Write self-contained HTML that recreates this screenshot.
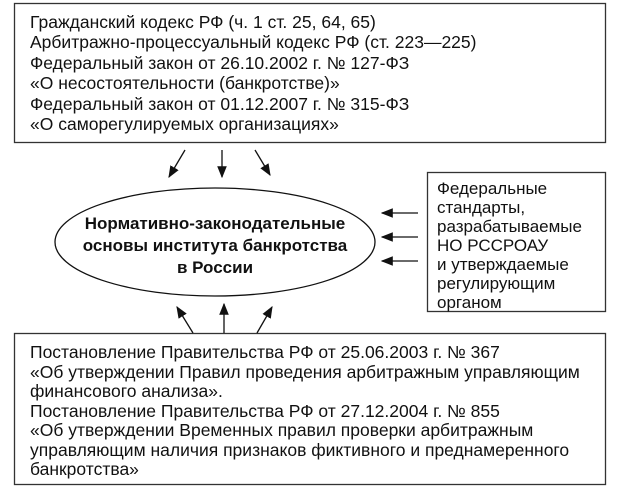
<!DOCTYPE html>
<html><head><meta charset="utf-8"><style>
html,body{margin:0;padding:0;background:#fff;}
svg{display:block;}
text{font-family:"Liberation Sans",sans-serif;fill:#111;}
</style></head><body>
<svg width="620" height="487" viewBox="0 0 620 487" xmlns="http://www.w3.org/2000/svg">
<defs>
<marker id="b" viewBox="0 0 10 10" refX="9" refY="5" markerWidth="12" markerHeight="12" markerUnits="userSpaceOnUse" orient="auto"><path d="M0,1 L10,5 L0,9 z" fill="#111"/></marker></defs>
<g fill="none" stroke="#333" stroke-width="1.3">
<rect x="14.5" y="3.5" width="591" height="139"/>
<rect x="427.5" y="172.5" width="178" height="139"/>
<rect x="14.5" y="333.5" width="591" height="151"/>
<ellipse cx="215" cy="242" rx="160" ry="54" stroke="#111"/>
</g>
<g stroke="#111" stroke-width="1.3" marker-end="url(#b)">
<line x1="185" y1="150" x2="169" y2="177"/>
<line x1="222" y1="150" x2="222" y2="177"/>
<line x1="255" y1="150" x2="270" y2="175"/>
<line x1="418" y1="213" x2="382" y2="213"/>
<line x1="418" y1="237" x2="382" y2="237"/>
<line x1="418" y1="261" x2="382" y2="261"/>
<line x1="193" y1="333" x2="177" y2="307"/>
<line x1="224" y1="333" x2="224" y2="304"/>
<line x1="257" y1="333" x2="272" y2="307"/>
</g>
<g font-size="17.5">
<text x="30" y="28">Гражданский кодекс РФ (ч. 1 ст. 25, 64, 65)</text>
<text x="30" y="48">Арбитражно-процессуальный кодекс РФ (ст. 223—225)</text>
<text x="30" y="69">Федеральный закон от 26.10.2002 г. № 127-ФЗ</text>
<text x="30" y="89">«О несостоятельности (банкротстве)»</text>
<text x="30" y="110">Федеральный закон от 01.12.2007 г. № 315-ФЗ</text>
<text x="30" y="130">«О саморегулируемых организациях»</text>
</g>
<g font-size="17">
<text x="437" y="194">Федеральные</text>
<text x="437" y="213">стандарты,</text>
<text x="437" y="232">разрабатываемые</text>
<text x="437" y="251">НО РССРОАУ</text>
<text x="437" y="270">и утверждаемые</text>
<text x="437" y="289">регулирующим</text>
<text x="437" y="308">органом</text>
</g>
<g font-size="17" font-weight="bold" text-anchor="middle">
<text x="215" y="229">Нормативно-законодательные</text>
<text x="215" y="251">основы института банкротства</text>
<text x="215" y="273">в России</text>
</g>
<g font-size="17.5">
<text x="30" y="358">Постановление Правительства РФ от 25.06.2003 г. № 367</text>
<text x="30" y="378">«Об утверждении Правил проведения арбитражным управляющим</text>
<text x="30" y="397">финансового анализа».</text>
<text x="30" y="417">Постановление Правительства РФ от 27.12.2004 г. № 855</text>
<text x="30" y="436">«Об утверждении Временных правил проверки арбитражным</text>
<text x="30" y="456">управляющим наличия признаков фиктивного и преднамеренного</text>
<text x="30" y="475">банкротства»</text>
</g>
</svg>
</body></html>
